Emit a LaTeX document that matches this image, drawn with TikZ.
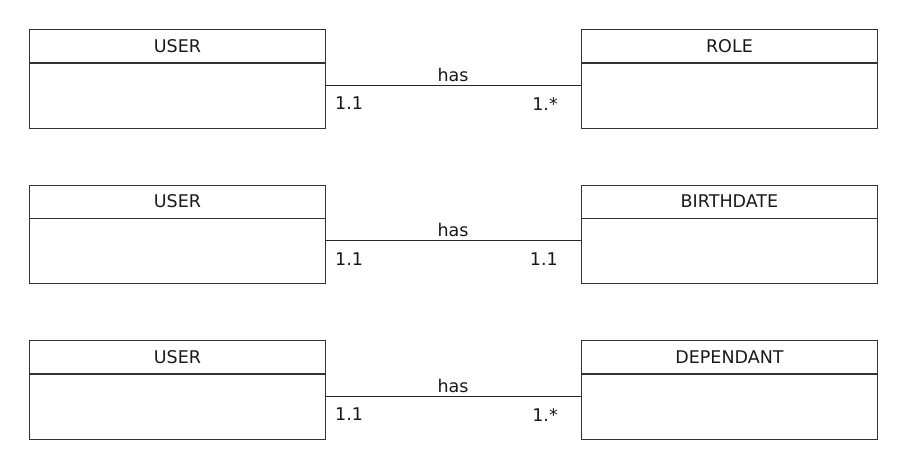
\documentclass[tikz,border=0pt]{standalone}
\usepackage{fontspec}
\setmainfont{DejaVu Sans}
\begin{document}
\begin{tikzpicture}[x=1pt,y=-1pt,
  boxline/.style={draw=black!80, line width=0.9pt},
  hdr/.style={boxline, minimum width=296pt, minimum height=33pt, inner sep=0pt, anchor=north west, font=\fontsize{17.5}{20}\selectfont, text=black!90},
  bdy/.style={boxline, minimum width=296pt, minimum height=65pt, inner sep=0pt, anchor=north west},
  conn/.style={draw=black!85, line width=0.9pt},
  lbl/.style={inner sep=0pt, font=\fontsize{17.5}{20}\selectfont, text=black!90}]
\useasboundingbox (0,0) rectangle (906,467);
\foreach \i/\top/\rname/\rm in {1/29/ROLE/1.*, 2/184.5/BIRTHDATE/1.1, 3/340/DEPENDANT/1.*}{
  \node[hdr] (u\i h) at (29,\top) {\raisebox{-1.5pt}{USER}};
  \node[bdy] (u\i b) at (u\i h.south west) {};
  \node[hdr] (r\i h) at (581,\top) {\raisebox{-1.5pt}{\rname}};
  \node[bdy] (r\i b) at (r\i h.south west) {};
  \coordinate (c\i l) at (325,\top+56);
  \coordinate (c\i r) at (581,\top+56);
  \draw[conn] (c\i l) -- node[lbl, above, inner sep=0pt, yshift=3pt] (has\i) {has} (c\i r);
  \node[lbl, anchor=north west] (ml\i) at (335,\top+68) {1.1};
  \node[lbl, anchor=north east] (mr\i) at (558,\top+68) {\rm};
}
\end{tikzpicture}
\end{document}
